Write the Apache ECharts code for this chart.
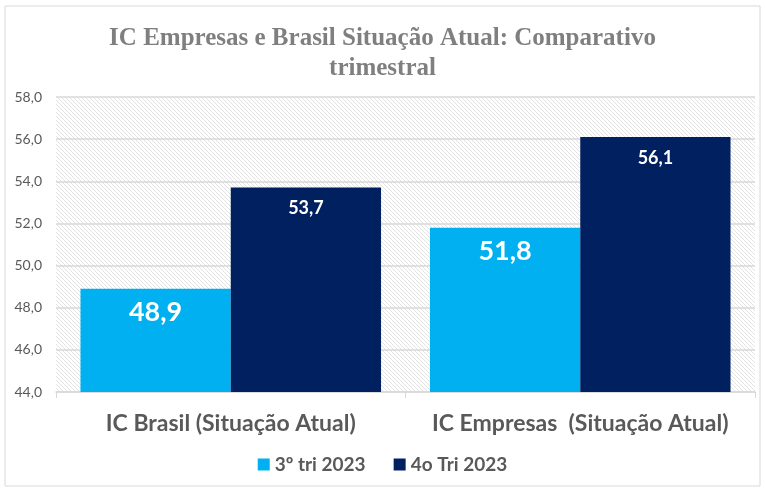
<!DOCTYPE html>
<html>
<head>
<meta charset="utf-8">
<script src="https://cdn.jsdelivr.net/npm/echarts@6/dist/echarts.min.js"></script>
<style>
  html, body { margin: 0; padding: 0; background: #fff; }
  #chart { width: 765px; height: 489px; }
</style>
</head>
<body>
<div id="chart"></div>
<script>
// dados
const categorias = ['IC Brasil (Situação Atual)', 'IC Empresas  (Situação Atual)'];
const serie3tri = [48.9, 51.8];
const serie4tri = [53.7, 56.1];
const nomesSeries = ['3º tri 2023', '4o Tri 2023'];

// hachura diagonal do fundo
function hachura() {
  const c = document.createElement('canvas');
  c.width = 4; c.height = 4;
  const ctx = c.getContext('2d');
  ctx.fillStyle = '#ffffff';
  ctx.fillRect(0, 0, 4, 4);
  ctx.strokeStyle = '#e2e2e2';
  ctx.lineWidth = 1;
  ctx.beginPath();
  ctx.moveTo(-1, -1); ctx.lineTo(5, 5);
  ctx.moveTo(-3, 1); ctx.lineTo(3, 7);
  ctx.moveTo(1, -3); ctx.lineTo(7, 3);
  ctx.stroke();
  return c;
}

const fmt = v => v.toFixed(1).replace('.', ',');
const chart = echarts.init(document.getElementById('chart'));
const option = {
  animation: false,
  backgroundColor: '#fff',
  graphic: [{
    type: 'rect',
    shape: { x: 5, y: 6, width: 755, height: 480 },
    style: { fill: 'none', stroke: '#d9d9d9', lineWidth: 1 },
    silent: true
  }],
  title: {
    text: 'IC Empresas e Brasil Situação Atual: Comparativo\ntrimestral',
    left: 'center',
    top: 19,
    textStyle: {
      fontFamily: 'Liberation Serif',
      fontWeight: 'bold',
      fontSize: 25,
      color: '#7f7f7f',
      lineHeight: 30
    }
  },
  legend: {
    data: nomesSeries,
    bottom: 10,
    left: 'center',
    itemWidth: 12,
    itemHeight: 12,
    itemGap: 28,
    icon: 'rect',
    textStyle: { fontFamily: 'Lato', fontWeight: 'bold', fontSize: 19, color: '#595959' }
  },
  grid: {
    left: 56, right: 10, top: 97, bottom: 97,
    show: true,
    borderWidth: 0,
    backgroundColor: { image: hachura(), repeat: 'repeat' }
  },
  xAxis: {
    type: 'category',
    data: categorias,
    axisLine: { lineStyle: { color: '#d9d9d9', width: 1.5 } },
    axisTick: { show: true, length: 6, lineStyle: { color: '#d9d9d9' } },
    axisLabel: {
      interval: 0,
      margin: 20,
      fontFamily: 'Lato', fontWeight: 'bold', fontSize: 23, color: '#595959'
    }
  },
  yAxis: {
    type: 'value',
    min: 44, max: 58, interval: 2,
    axisLine: { show: false },
    axisTick: { show: false },
    splitLine: { lineStyle: { color: '#d9d9d9', width: 1.5 } },
    axisLabel: {
      formatter: fmt,
      margin: 14,
      fontFamily: 'Lato', fontSize: 14, color: '#595959'
    }
  },
  series: [
    {
      name: nomesSeries[0],
      type: 'bar',
      data: serie3tri,
      barGap: 0,
      barCategoryGap: '14%',
      itemStyle: { color: '#00b0f0' },
      label: {
        show: true, position: 'insideTop', distance: 10,
        formatter: p => fmt(p.value),
        fontFamily: 'Lato', fontWeight: 'bold', fontSize: 27, color: '#fff'
      }
    },
    {
      name: nomesSeries[1],
      type: 'bar',
      data: serie4tri,
      itemStyle: { color: '#002060' },
      label: {
        show: true, position: 'insideTop', distance: 12,
        formatter: p => fmt(p.value),
        fontFamily: 'Lato', fontWeight: 'bold', fontSize: 18, color: '#fff'
      }
    }
  ]
};
chart.setOption(option);
</script>
</body>
</html>
